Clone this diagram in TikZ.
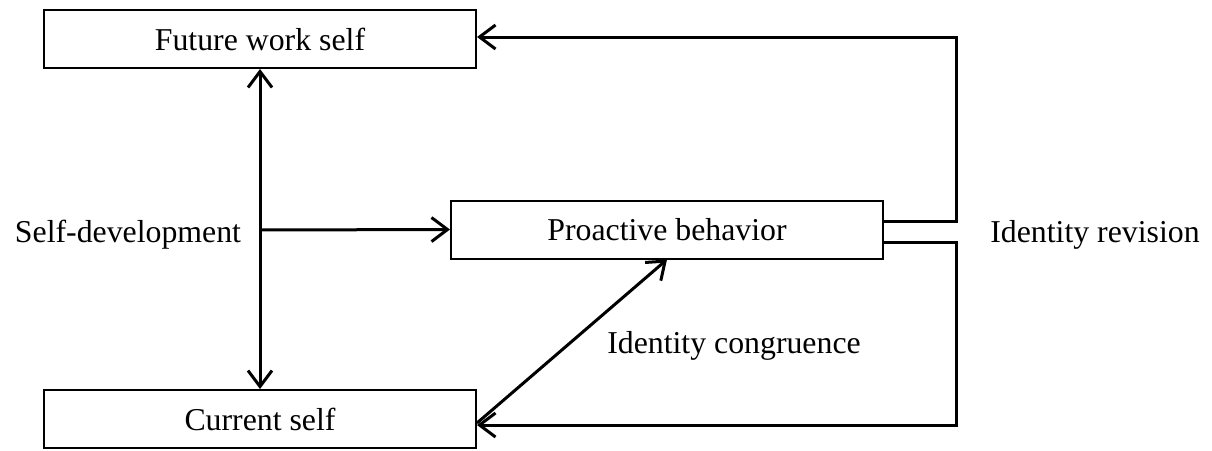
\documentclass[tikz,border=0pt]{standalone}
\usepackage{fontspec}
\setmainfont{Liberation Serif}
\usetikzlibrary{arrows.meta}

\tikzset{
  box/.style={draw, line width=2pt, minimum width=432pt, minimum height=58pt, inner sep=0pt},
  link/.style={line width=3pt, -{Straight Barb[length=16pt,width=24pt,line width=3pt]}},
  twoway/.style={line width=3pt, {Straight Barb[length=16pt,width=24pt,line width=3pt]}-{Straight Barb[length=16pt,width=24pt,line width=3pt]}}
}

\begin{document}
\begin{tikzpicture}[x=1pt, y=-1pt, font=\fontsize{31.8}{38}\selectfont]

    \useasboundingbox (0,0) rectangle (1212,450); % 画布

    % 三个方框
    \node[box] (future) at (260,39) {Future work self};
    \node[box] (current) at (260,419) {Current self};
    \node[box] (proactive) at (667,229.5) {Proactive behavior};

    % 自我发展
    \draw[twoway] (future.south) -- (current.north);
    \coordinate (branch) at (260,230);
    \draw[link] (branch) -- (proactive.west);
    \node (selfdev) at (128,235) {Self-development};

    % 身份修正的两条回路
    \coordinate (upout) at (883,221);
    \coordinate (downout) at (883,242);
    \draw[link] (upout) -- (956,221) -- (956,37) -- (future.east |- 0,37);
    \draw[link] (downout) -- (956,242) -- (956,425) -- (current.east |- 0,425);
    \node (revision) at (1095,235) {Identity revision};

    % 身份一致
    \draw[link] (current.east |- 0,423) -- (proactive.south);
    \node (congruence) at (734,346) {Identity congruence};

\end{tikzpicture}
\end{document}
